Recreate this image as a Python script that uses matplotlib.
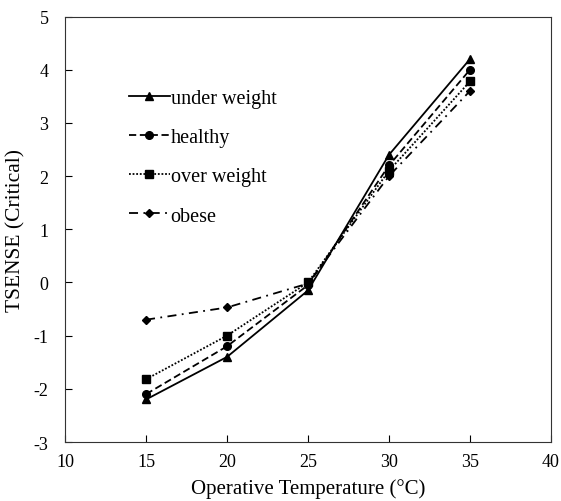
import matplotlib
matplotlib.use("Agg")
import matplotlib.pyplot as plt

temps = [15, 20, 25, 30, 35]
under_weight = [-2.2, -1.4, -0.15, 2.4, 4.2]
healthy = [-2.1, -1.2, -0.05, 2.2, 4.0]
over_weight = [-1.82, -1.0, 0.0, 2.1, 3.78]
obese = [-0.7, -0.47, -0.02, 2.0, 3.6]

xticks = [10, 15, 20, 25, 30, 35, 40]
yticks = [-3, -2, -1, 0, 1, 2, 3, 4, 5]

plt.rcParams['font.family'] = ['Liberation Serif', 'DejaVu Serif']
plt.rcParams['axes.unicode_minus'] = False
fig = plt.figure(figsize=(5.61, 5.02), dpi=100)
ax = fig.add_axes([0.116, 0.1175, 0.866, 0.8475])

lw = 1.3
ms = 5.5
ax.plot(temps, under_weight, color='black', ls='-', lw=lw, marker='^', ms=ms, label='under weight')
ax.plot(temps, healthy, color='black', ls=(0, (4, 2)), lw=lw, marker='o', ms=ms, label='healthy')
ax.plot(temps, over_weight, color='black', ls=(0, (1, 1)), lw=lw, marker='s', ms=ms, label='over weight')
ax.plot(temps, obese, color='black', ls=(0, (5, 3, 1, 3)), lw=lw, marker='D', ms=ms - 1, label='obese')

ax.set_xlim(10, 40)
ax.set_ylim(-3, 5)
ax.set_xticks(xticks)
ax.set_yticks(yticks)
ax.tick_params(direction='in', length=5, labelsize=13, width=0.8)
ax.tick_params(axis='x', pad=8)
ax.tick_params(axis='y', pad=12)
for s in ax.spines.values():
    s.set_linewidth(0.8)
    s.set_color('#333333')

ax.set_xlabel('Operative Temperature (°C)', fontsize=15, labelpad=6)
ax.set_ylabel('TSENSE (Critical)', fontsize=15.5, labelpad=6)

leg = ax.legend(loc='upper left', bbox_to_anchor=(0.095, 0.873), frameon=False,
                fontsize=14.5, handlelength=2.0, handletextpad=0.05, labelspacing=1.0)

fig.savefig('out.png', dpi=100)
